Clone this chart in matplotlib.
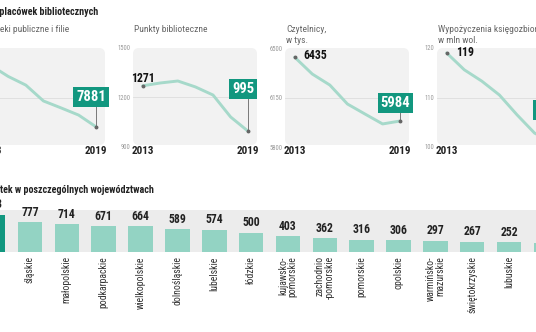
import numpy as np
import matplotlib.pyplot as plt
from matplotlib.patches import FancyBboxPatch

W, H = 536, 332
NARROW = ['Roboto Condensed', 'Roboto', 'DejaVu Sans']

# --- line panels ---
years = [2013, 2014, 2015, 2016, 2017, 2018, 2019]
branches = [8130, 8085, 8050, 7986, 7958, 7929, 7881]
points = [1271, 1288, 1300, 1264, 1215, 1082, 995]
readers = [6435, 6316, 6238, 6104, 6033, 5963, 5984]
loans = [119, 115.6, 113.3, 110.5, 106.5, 102.8, 101]

panel_titles = ['Biblioteki publiczne i filie', 'Punkty biblioteczne',
                'Czytelnicy,\nw tys.', 'Wypożyczenia księgozbioru\nw mln wol.']
panel_series = [branches, points, readers, loans]
panel_ticks = [[7800, 8000, 8200], [900, 1200, 1500],
               [5800, 6150, 6500], [100, 110, 120]]
start_labels = ['8130', '1271', '6435', '119']
end_labels = ['7881', '995', '5984', '101']

# --- bars ---
regions = ['mazowieckie', 'śląskie', 'małopolskie', 'podkarpackie', 'wielkopolskie',
           'dolnośląskie', 'lubelskie', 'łódzkie', 'kujawsko-\npomorskie',
           'zachodnio\n-pomorskie', 'pomorskie', 'opolskie', 'warmińsko-\nmazurskie',
           'świętokrzyskie', 'lubuskie', 'podlaskie']
libraries = [963, 777, 714, 671, 664, 589, 574, 500, 403, 362, 316, 306, 297, 267, 252, 226]

TEAL = '#12977f'
LINE = '#a6d9ca'
BAR = '#93d3c3'


def px_axes(left, top, width, height, **kw):
    return fig.add_axes([left / W, 1 - (top + height) / H, width / W, height / H], **kw)


fig = plt.figure(figsize=(W / 100, H / 100), dpi=100)

# full-canvas layer in pixel units for headings and panel backgrounds
base = px_axes(0, 0, W, H, zorder=0)
base.set_xlim(0, W)
base.set_ylim(H, 0)
base.axis('off')

base.text(98, 12, 'Liczba placówek bibliotecznych', ha='right', va='center',
          fontsize=7.2, fontweight='bold', color='#222', family=NARROW)
base.text(154, 190, 'Liczba bibliotek w poszczególnych województwach', ha='right',
          va='center', fontsize=7.2, fontweight='bold', color='#222', family=NARROW)

lefts = [-19, 133, 285, 437]
pw, ptop, ph = 124, 48, 99
start_off = [(-4, 8), (0, 5), (6, 1), (7, 0)]
start_ha = ['center', 'center', 'left', 'left']
box_y = [0.505, 0.586, 0.444, 0.374]

for i, left in enumerate(lefts):
    vals = panel_series[i]
    lo, mid, hi = panel_ticks[i]

    base.add_patch(FancyBboxPatch((left, ptop), pw, ph - 2,
                                  boxstyle='round,pad=0,rounding_size=6',
                                  fc='#f2f2f2', ec='none'))
    title = panel_titles[i]
    if i == 0:
        base.text(69, 29, title, ha='right', va='center', fontsize=6.8,
                  color='#666', family=NARROW)
    else:
        base.text(left + 1, 35 if '\n' in title else 29, title, ha='left',
                  va='center', fontsize=6.8, color='#666', family=NARROW,
                  linespacing=1.2)

    ax = px_axes(left, ptop, pw, ph, zorder=1)
    ax.patch.set_visible(False)
    for s in ax.spines.values():
        s.set_visible(False)
    ax.axhline(mid, color='#dddddd', lw=0.6, zorder=1)
    ax.plot(years, vals, color=LINE, lw=2.1, solid_capstyle='round', zorder=2)
    ax.plot([years[0], years[-1]], [vals[0], vals[-1]], 'o', ms=1.8,
            color='#666', zorder=3)

    ax.set_yticks(panel_ticks[i])
    ax.set_yticklabels([str(t) for t in panel_ticks[i]], fontsize=4.8,
                       color='#999', family=NARROW)
    ax.tick_params(axis='y', length=0, pad=2)
    ax.set_xticks([2013, 2019])
    ax.set_xticklabels(['2013', '2019'], fontsize=8, fontweight='bold',
                       color='#222', family=NARROW)
    ax.tick_params(axis='x', length=0, pad=-1)
    ax.set_xlim(2012.45, 2019.5)
    ax.set_ylim(lo, hi)

    ax.annotate(start_labels[i], xy=(years[0], vals[0]), xytext=start_off[i],
                textcoords='offset points', ha=start_ha[i], va='center',
                fontsize=8.5, fontweight='bold', color='#111', family=NARROW)

    ybox = lo + box_y[i] * (hi - lo)
    ax.vlines(years[-1], vals[-1], ybox, color='#666', lw=0.6, zorder=3)
    ax.text(years[-1] - 0.28, ybox, end_labels[i], ha='center', va='center',
            fontsize=10.5, fontweight='bold', color='white', family=NARROW,
            zorder=4, bbox=dict(boxstyle='square,pad=0.2', fc=TEAL, ec='none'))

# --- regional bar chart ---
step, c0 = 36.85, -6.85
bx = px_axes(0, 210, W, 42, zorder=1)
bx.set_facecolor('#ececec')
for s in bx.spines.values():
    s.set_visible(False)
x = np.arange(len(regions))
colors = [TEAL] + [BAR] * (len(regions) - 1)
bx.bar(x, libraries, width=0.665, color=colors)
for xi, v in zip(x, libraries):
    bx.annotate(str(v), xy=(xi, v), xytext=(0, 2.5), textcoords='offset points',
                ha='center', va='bottom', fontsize=8.5, fontweight='bold',
                color='#222', family=NARROW, annotation_clip=False)
bx.set_yticks([])
bx.set_xticks(x)
bx.set_xticklabels(regions, rotation=90, ha='center', va='top', fontsize=7,
                   color='#333', family=NARROW, linespacing=0.95)
for lbl in bx.get_xticklabels():
    lbl.set_multialignment('right')
bx.tick_params(axis='x', length=0, pad=3)
bx.set_xlim((0 - c0) / step, (W - c0) / step)
bx.set_ylim(0, 42 / 0.0386)

fig.savefig('out.png', dpi=100)
